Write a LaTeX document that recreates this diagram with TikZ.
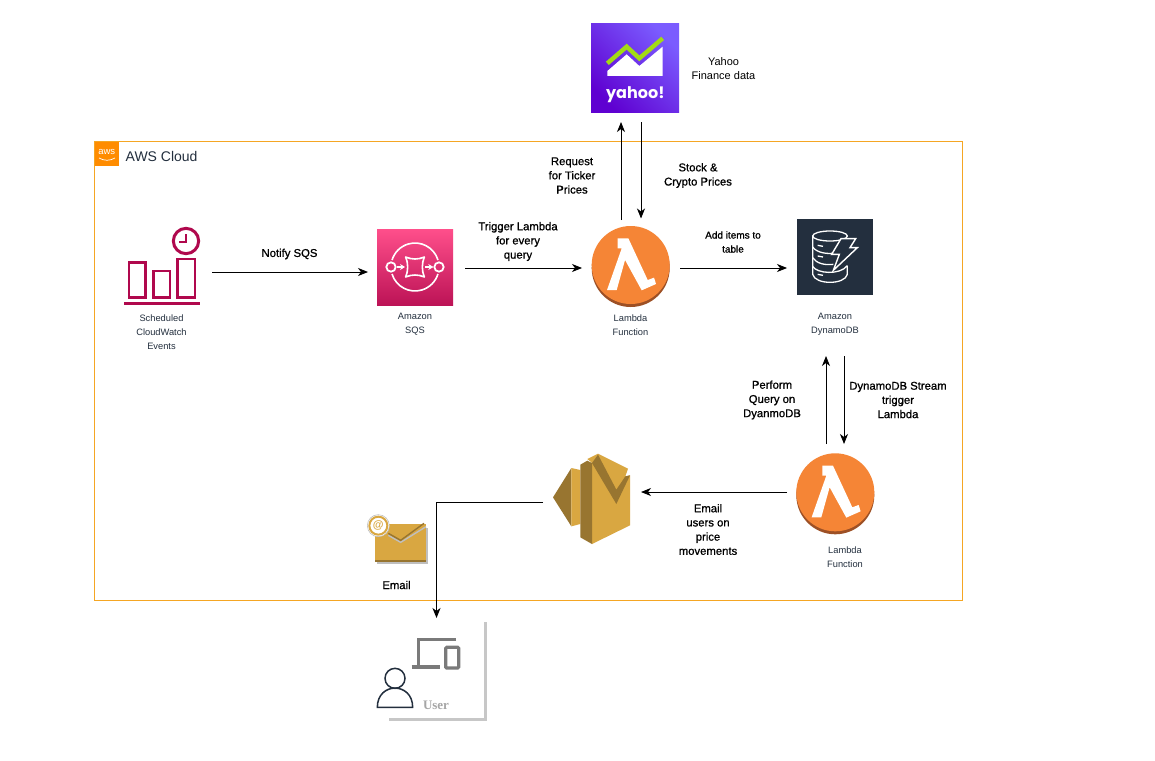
\documentclass[tikz,border=0pt]{standalone}
\usepackage{fontspec}
\setmainfont{Liberation Sans}
\newfontfamily\labelfont[RawFeature={embolden=0.9}]{Liberation Sans}
\newfontfamily\serifuser{Liberation Serif}
\newfontfamily\yahoofont{Poppins}
\usetikzlibrary{positioning}
\usetikzlibrary{arrows.meta}
\definecolor{awsorange}{HTML}{F5A623}
\definecolor{awsink}{HTML}{232F3E}
\definecolor{sesgold}{HTML}{D9A741}
\definecolor{sesdark}{HTML}{987530}
\definecolor{eventred}{HTML}{B0084D}
\definecolor{lambdaorange}{HTML}{F58536}
\definecolor{lambdadark}{HTML}{9D5025}
\definecolor{yahoogreen}{HTML}{A3DA14}
\definecolor{devicegray}{HTML}{7A7A7A}
\tikzset{
	flowline/.style={draw=black,line width=0.9pt,-{Stealth[length=10pt,width=8pt,inset=3pt]}},
	iconbox/.style={rectangle,inner sep=0pt,outer sep=0pt},
	flowlabel/.style={inner sep=0pt,align=center,text=black,font=\labelfont\fontsize{11.3}{14.2}\selectfont},
	caption/.style={inner sep=0pt,align=center,text=awsink,font=\fontsize{9.3}{14}\selectfont},
	lambdaicon/.pic={
		\fill[lambdadark] (0,9) circle [radius=117];
		\fill[lambdaorange] (0,0) circle [radius=117];
		\fill[white] (-39,-80) -- (-7,-80) -- (51,45) -- (70,38) -- (76,57) -- (33,76) -- (-17,-15) -- (-42,75) -- (-71,75) -- (-27,-50) -- (-39,-50) -- cycle;
	},
	sqsicon/.pic={
		\draw[white,line width=1.8pt] (48,120) circle [radius=14];
		\draw[white,line width=1.8pt] (192,120) circle [radius=14];
		\draw[white,line width=1.6pt] (188.9,99) arc [start angle=-17,end angle=-163,radius=72];
		\draw[white,line width=1.6pt] (51.1,141) arc [start angle=163,end angle=17,radius=72];
		\draw[white,line width=1.6pt,-{Stealth[length=5pt,width=6pt]}] (66,120) -- (90,120);
		\draw[white,line width=1.6pt,-{Stealth[length=5pt,width=6pt]}] (150,120) -- (175,120);
		\draw[white,line width=1.6pt,line join=round] (92,90) .. controls (110,98) and (130,98) .. (148,90) .. controls (140,108) and (140,132) .. (148,150) .. controls (130,142) and (110,142) .. (92,150) .. controls (100,132) and (100,108) .. (92,90) -- cycle;
	},
	dynamoicon/.pic={
		\draw[white,line width=1.3pt] (105,57) ellipse [x radius=52,y radius=15];
		\draw[white,line width=1.3pt] (53,57) -- (53,172) .. controls (60,204) and (150,204) .. (157,172) -- (157,146);
		\draw[white,line width=1.3pt] (53,90) .. controls (65,108) and (100,112) .. (118,108);
		\draw[white,line width=1.3pt] (53,122) .. controls (65,140) and (90,145) .. (115,142);
		\draw[white,line width=1.3pt] (53,148) .. controls (65,170) and (135,175) .. (157,146);
		\draw[white,line width=1.3pt] (68,85) -- (84,88) (68,117) -- (84,120) (68,172) -- (84,175);
		\draw[white,fill=awsink,line width=1.4pt,line join=miter] (138,65) -- (182,65) -- (165,92) -- (187,92) -- (115,160) -- (133,112) -- (110,112) -- cycle;
	},
	eventsicon/.pic={
		\draw[eventred,line width=2.5pt] (27,113) rectangle (77,218);
		\draw[eventred,line width=2.5pt] (100,138) rectangle (150,218);
		\draw[eventred,line width=2.5pt] (172,102) rectangle (225,218);
		\draw[eventred,line width=3.2pt] (12,236) -- (240,236);
		\draw[eventred,line width=3pt] (198,48) circle [radius=38];
		\draw[eventred,line width=2.2pt] (197,28) -- (197,52) -- (178,52);
	},
	sesicon/.pic={
		\fill[sesdark] (15,148) -- (70,60) -- (70,235) -- cycle;
		\fill[sesgold] (70,60) -- (97,66) -- (97,228) -- (70,235) -- cycle;
		\fill[sesgold] (132,45) -- (118,33) -- (150,17) -- (240,62) -- (232,85) -- (246,82) -- (246,232) -- (132,288) -- cycle;
		\fill[sesdark] (97,50) -- (118,38) -- (132,45) -- (132,288) -- (97,268) -- cycle;
		\fill[sesdark] (132,45) -- (150,20) -- (205,125) -- (232,85) -- (246,82) -- (205,168) -- cycle;
	},
	emailicon/.pic={
		\fill[black!25] (52,55) rectangle (205,161);
		\fill[sesgold] (45,43) -- (198,43) -- (198,150) -- (45,150) -- cycle;
		\fill[sesdark] (45,150) rectangle (198,156);
		\draw[black!25,line width=1.4pt] (85,76) -- (122,97) -- (198,50);
		\draw[sesdark,line width=1.4pt] (85,70) -- (122,91) -- (192,40);
		\draw[black!25,fill=white,line width=0.6pt] (55,47) circle [radius=33];
		\draw[sesgold,line width=2pt] (55,47) circle [radius=27];
		\node[inner sep=0pt,text=sesgold,font=\fontsize{11}{11}\selectfont\bfseries] (MailAt) at (55,47) {@};
	},
	yahooicon/.pic={
		\fill[white] (142,183) -- (200,133) -- (238,168) -- (308,110) -- (308,198) -- (142,198) -- cycle;
		\draw[yahoogreen,line width=4.4pt] (142,160) -- (200,110) -- (238,145) -- (308,85);
		\node[inner sep=0pt,text=white,font=\yahoofont\fontsize{16}{16}\selectfont\bfseries] (YahooMark) at (226,255) {yahoo!};
	},
	devicesicon/.pic={
		\draw[devicegray,line width=3pt] (318,597) -- (205,597) -- (205,680);
		\draw[devicegray,line width=4pt] (185,680) -- (270,680);
		\draw[devicegray,line width=3.2pt,rounded corners=1pt] (287,622) rectangle (326,684);
		\draw[awsink,line width=1.5pt] (135,715) circle [radius=30];
		\draw[awsink,line width=1.5pt] (82,802) .. controls (82,725) and (188,725) .. (188,802) -- cycle;
	}
}

\begin{document}
\begin{tikzpicture}[x=1pt,y=-1pt]
	
	\path[fill=white,use as bounding box] (0,0) rectangle (1155,760);
	
	\node[rectangle,draw=awsorange,line width=0.9pt,minimum width=868pt,minimum height=459pt,inner sep=0pt] (Cloud) at (528,370.5) {};
	\node[iconbox,fill=orange!90!yellow,minimum width=24pt,minimum height=24pt] (CloudTag) at (107,154) {};
	\node[inner sep=0pt,text=white,font=\fontsize{9.5}{9.5}\selectfont] (CloudMark) at (106.8,151.5) {aws};
	\draw[white,line width=0.7pt] (99,158) .. controls (104,161) and (110,161) .. (115,158);
	\node[inner sep=0pt,anchor=west,text=awsink,font=\fontsize{14}{14}\selectfont] (CloudName) at (125.5,156) {AWS Cloud};
	
	\node[iconbox,minimum width=76pt,minimum height=76pt] (Events) at (162,267) {};
	\pic[scale=1/3] at (120,225) {eventsicon};
	\node[caption] (EventsText) at (161.5,332) {Scheduled\\CloudWatch\\Events};
	
	\node[iconbox,top color={rgb,255:red,255;green,79;blue,139},bottom color={rgb,255:red,188;green,19;blue,86},minimum width=76pt,minimum height=76pt] (SQS) at (415,267) {};
	\pic[scale=1/3] at (375,227) {sqsicon};
	\node[caption] (SQSText) at (415,324) {Amazon\\SQS};
	
	\node[iconbox,minimum width=78pt,minimum height=81pt] (Lambda1) at (631,268) {};
	\pic[scale=1/3] at (630.7,265) {lambdaicon};
	\node[caption] (Lambda1Text) at (630.5,325) {Lambda\\Function};
	
	\node[iconbox,fill=awsink,minimum width=76pt,minimum height=76pt] (Dynamo) at (835,257) {};
	\pic[scale=1/3] at (795,217) {dynamoicon};
	\node[caption] (DynamoText) at (835,324) {Amazon\\DynamoDB};
	
	\node[iconbox,left color={rgb,255:red,123;green,92;blue,255},right color={rgb,255:red,95;green,1;blue,209},shading angle=-45,minimum width=88pt,minimum height=88pt] (Yahoo) at (635,68) {};
	\pic[scale=1/3] at (560,10) {yahooicon};
	\node[flowlabel,font=\fontsize{11}{14.2}\selectfont] (YahooText) at (723.5,68.5) {Yahoo\\Finance data};
	
	\node[iconbox,minimum width=78pt,minimum height=81pt] (Lambda2) at (836,494) {};
	\pic[scale=1/3] at (835.3,492.3) {lambdaicon};
	\node[caption] (Lambda2Text) at (845,557) {Lambda\\Function};
	
	\node[iconbox,minimum width=78pt,minimum height=90pt] (SES) at (592,499) {};
	\pic[scale=1/3] at (548,448) {sesicon};
	
	\node[iconbox,minimum width=61pt,minimum height=48pt] (Email) at (397.5,539) {};
	\pic[scale=1/3] at (360,510) {emailicon};
	\node[flowlabel] (EmailText) at (396.5,585) {Email};
	
	\node[iconbox,minimum width=99pt,minimum height=98pt] (User) at (436.5,671) {};
	\draw[black!22,line width=2.4pt] (389,719.5) -- (485.5,719.5) -- (485.5,622);
	\pic[scale=1/3] at (350,440) {devicesicon};
	\node[inner sep=0pt,text=black!35,font=\serifuser\fontsize{13}{13}\selectfont\bfseries] (UserText) at (436,705) {User};
	
	\node[flowlabel] (NotifyText) at (289.5,254) {Notify SQS};
	\node[flowlabel] (TriggerText) at (518,241.5) {Trigger Lambda\\for every\\query};
	\node[flowlabel] (RequestText) at (572,175.5) {Request\\for Ticker\\Prices};
	\node[flowlabel] (PricesText) at (698,175.5) {Stock \&\\Crypto Prices};
	\node[flowlabel,font=\labelfont\fontsize{10}{14}\selectfont] (AddText) at (733,242) {Add items to\\table};
	\node[flowlabel] (QueryText) at (772,400) {Perform\\Query on\\DyanmoDB};
	\node[flowlabel] (StreamText) at (898,400) {DynamoDB Stream\\trigger\\Lambda};
	\node[flowlabel] (MailText) at (708,529.5) {Email\\users on\\price\\movements};
	
	\draw[flowline,shorten <=12pt,shorten >=9pt] ([yshift=-5pt]Events.east) -- ([yshift=-5pt]SQS.west);
	\draw[flowline,shorten <=12pt,shorten >=10pt] ([yshift=-1pt]SQS.east) -- (Lambda1.west);
	\draw[flowline,shorten <=10pt,shorten >=10pt] (Lambda1.east) -- ([yshift=-11pt]Dynamo.west);
	\draw[flowline,shorten <=7.5pt,shorten >=10pt] ([xshift=-10pt]Lambda1.north) -- ([xshift=-14pt]Yahoo.south);
	\draw[flowline,shorten <=10pt,shorten >=9pt] ([xshift=6pt]Yahoo.south) -- ([xshift=10pt]Lambda1.north);
	\draw[flowline,shorten <=9.5pt,shorten >=61pt] ([xshift=-10pt]Lambda2.north) -- ([xshift=-9pt]Dynamo.south);
	\draw[flowline,shorten <=61pt,shorten >=9.5pt] ([xshift=9pt]Dynamo.south) -- ([xshift=8pt]Lambda2.north);
	\draw[flowline,shorten <=10pt,shorten >=10pt] ([yshift=2pt]Lambda2.west) -- ([yshift=7pt]SES.east);
	\draw[flowline,shorten <=10pt,shorten >=4pt] ([yshift=-3pt]SES.west) -| (User.north);
	
\end{tikzpicture}
\end{document}
